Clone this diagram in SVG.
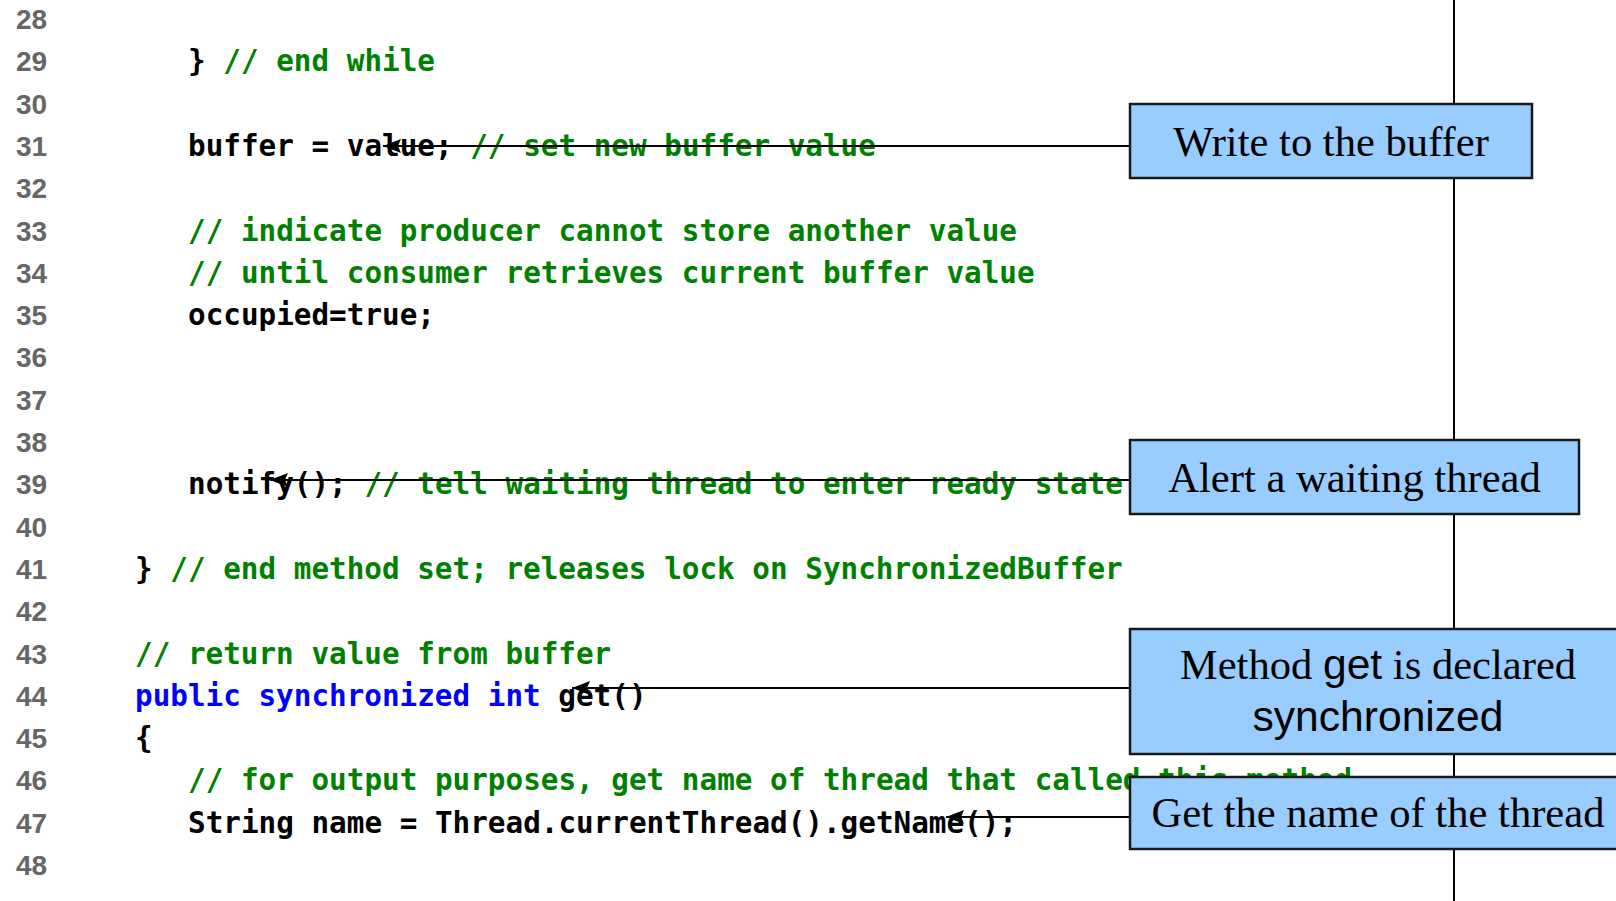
<svg xmlns="http://www.w3.org/2000/svg" width="1616" height="901" viewBox="0 0 1616 901">
  <defs>
    <style>
      .ln { font-family: "Liberation Sans", Arial, sans-serif; font-weight: bold; font-size: 28px; fill: #666666; }
      .code { font-family: "DejaVu Sans Mono", "Liberation Mono", monospace; font-weight: bold; font-size: 29.3px; fill: #000000; white-space: pre; }
      .cm { fill: #008000; }
      .kw { fill: #0000ff; }
      .box { fill: #99ccff; stroke: #1a1a1a; stroke-width: 2.5; }
      .lbl { font-family: "Liberation Serif", "Times New Roman", serif; font-size: 42.6px; fill: #000000; text-anchor: middle; }
      .sans { font-family: "Liberation Sans", Arial, sans-serif; }
      .conn { stroke: #000000; stroke-width: 2; fill: none; }
    </style>
    <marker id="head" markerUnits="userSpaceOnUse" markerWidth="20" markerHeight="16" refX="18" refY="8" orient="auto">
      <path d="M0,1 L18,8 L0,15 L3,8 z" fill="#000000"/>
    </marker>
  </defs>

  <rect width="1616" height="901" fill="#ffffff"/>

  <!-- line numbers -->
  <g id="line-numbers">
    <text class="ln" x="16" y="29">28</text>
    <text class="ln" x="16" y="71.3">29</text>
    <text class="ln" x="16" y="113.6">30</text>
    <text class="ln" x="16" y="155.9">31</text>
    <text class="ln" x="16" y="198.2">32</text>
    <text class="ln" x="16" y="240.5">33</text>
    <text class="ln" x="16" y="282.8">34</text>
    <text class="ln" x="16" y="325.1">35</text>
    <text class="ln" x="16" y="367.4">36</text>
    <text class="ln" x="16" y="409.7">37</text>
    <text class="ln" x="16" y="452">38</text>
    <text class="ln" x="16" y="494.3">39</text>
    <text class="ln" x="16" y="536.6">40</text>
    <text class="ln" x="16" y="578.9">41</text>
    <text class="ln" x="16" y="621.2">42</text>
    <text class="ln" x="16" y="663.5">43</text>
    <text class="ln" x="16" y="705.8">44</text>
    <text class="ln" x="16" y="748.1">45</text>
    <text class="ln" x="16" y="790.4">46</text>
    <text class="ln" x="16" y="832.7">47</text>
    <text class="ln" x="16" y="875">48</text>
  </g>

  <!-- source listing -->
  <g id="code">
    <text class="code" x="188" y="71.3">} <tspan class="cm">// end while</tspan></text>
    <text class="code" x="188" y="155.9">buffer = value; <tspan class="cm">// set new buffer value</tspan></text>
    <text class="code cm" x="188" y="240.5">// indicate producer cannot store another value</text>
    <text class="code cm" x="188" y="282.8">// until consumer retrieves current buffer value</text>
    <text class="code" x="188" y="325.1">occupied=true;</text>
    <text class="code" x="188" y="494.3">notify(); <tspan class="cm">// tell waiting thread to enter ready state</tspan></text>
    <text class="code" x="135" y="578.9">} <tspan class="cm">// end method set; releases lock on SynchronizedBuffer</tspan></text>
    <text class="code cm" x="135" y="663.5">// return value from buffer</text>
    <text class="code" x="135" y="705.8"><tspan class="kw">public synchronized int </tspan>get()</text>
    <text class="code" x="135" y="748.1">{</text>
    <text class="code cm" x="188" y="790.4">// for output purposes, get name of thread that called this method</text>
    <text class="code" x="188" y="832.7">String name = Thread.currentThread().getName();</text>
  </g>

  <!-- connectors -->
  <g id="connectors">
    <line class="conn" x1="1454" y1="0" x2="1454" y2="901"/>
    <line class="conn" x1="1130" y1="146" x2="383" y2="146" marker-end="url(#head)"/>
    <line class="conn" x1="1130" y1="480" x2="270" y2="480" marker-end="url(#head)"/>
    <line class="conn" x1="1130" y1="688" x2="572" y2="688" marker-end="url(#head)"/>
    <line class="conn" x1="1130" y1="817" x2="946" y2="817" marker-end="url(#head)"/>
  </g>

  <!-- callouts -->
  <g id="write-buffer">
    <rect class="box" x="1130" y="104" width="402" height="74"/>
    <text class="lbl" x="1331" y="156">Write to the buffer</text>
  </g>
  <g id="alert-thread">
    <rect class="box" x="1130" y="440" width="449" height="74"/>
    <text class="lbl" x="1354.5" y="492">Alert a waiting thread</text>
  </g>
  <g id="get-synchronized">
    <rect class="box" x="1130" y="629" width="496" height="125"/>
    <text class="lbl" x="1378" y="679">Method <tspan class="sans">get</tspan> is declared</text>
    <text class="lbl sans" x="1378" y="731">synchronized</text>
  </g>
  <g id="thread-name">
    <rect class="box" x="1130" y="777" width="496" height="72"/>
    <text class="lbl" x="1378" y="827">Get the name of the thread</text>
  </g>
</svg>
